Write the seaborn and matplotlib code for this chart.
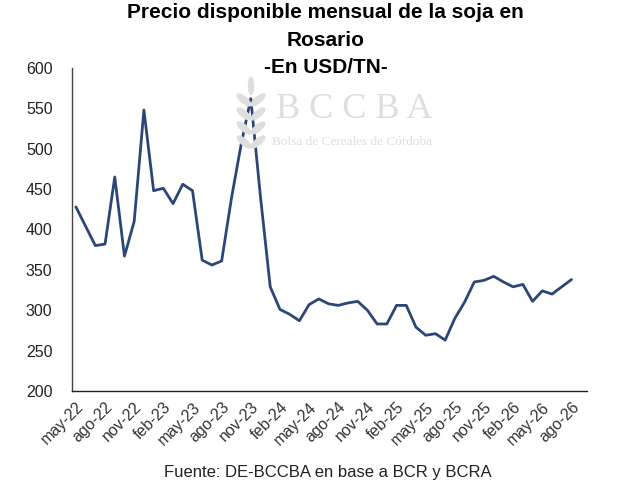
import matplotlib
matplotlib.use("Agg")
import matplotlib.pyplot as plt
from matplotlib.patches import Ellipse
import seaborn as sns
import pandas as pd

# Monthly soybean price in Rosario (USD/TN), may-22 .. ago-26
months = ["may-22", "jun-22", "jul-22", "ago-22", "sep-22", "oct-22", "nov-22", "dic-22",
          "ene-23", "feb-23", "mar-23", "abr-23", "may-23", "jun-23", "jul-23", "ago-23",
          "sep-23", "oct-23", "nov-23", "dic-23", "ene-24", "feb-24", "mar-24", "abr-24",
          "may-24", "jun-24", "jul-24", "ago-24", "sep-24", "oct-24", "nov-24", "dic-24",
          "ene-25", "feb-25", "mar-25", "abr-25", "may-25", "jun-25", "jul-25", "ago-25",
          "sep-25", "oct-25", "nov-25", "dic-25", "ene-26", "feb-26", "mar-26", "abr-26",
          "may-26", "jun-26", "jul-26", "ago-26"]
price = [428, 404, 380, 382, 465, 367, 410, 548, 448, 451, 432, 456, 448,
         362, 356, 361, 438, 505, 562, 440, 329, 301, 295, 287, 307, 314,
         308, 306, 309, 311, 300, 283, 283, 306, 306, 279, 269, 271, 263,
         290, 310, 335, 337, 342, 335, 329, 332, 311, 324, 320, 329, 338]

df = pd.DataFrame({"mes": months, "precio": price})
df["pos"] = range(len(df))

sns.set_theme(style="white")
plt.rcParams["font.family"] = ["Liberation Sans", "DejaVu Sans"]

W, H = 640, 496
fig = plt.figure(figsize=(6.4, 4.96), dpi=100)
ax = fig.add_axes([0.1125, 0.2117, 0.8047, 0.6513])


def px(x, y):
    # pixel position (from top-left) -> inches for dpi_scale_trans
    return x / 100, (H - y) / 100


# watermark: wheat logo + BCCBA text (behind the line)
wm = "#dedede"
for yy in [100, 114, 128, 142]:
    for side in (-1, 1):
        e = Ellipse(px(251 + side * 7, yy), 0.17, 0.06, angle=side * 40,
                    transform=fig.dpi_scale_trans, color=wm, zorder=0)
        fig.patches.append(e)
fig.patches.append(Ellipse(px(251, 86), 0.05, 0.17,
                           transform=fig.dpi_scale_trans, color=wm, zorder=0))
fig.text(276 / W, 1 - 110 / H, "B C C B A", fontsize=26, family="Liberation Serif",
         color=wm, ha="left", va="center", zorder=0)
fig.text(272 / W, 1 - 142 / H, "Bolsa de Cereales de Córdoba", fontsize=9.5,
         family="Liberation Serif", color=wm, ha="left", va="center", zorder=0)
ax.patch.set_alpha(0)

sns.lineplot(data=df, x="pos", y="precio", ax=ax, color="#2c4677", linewidth=2.0)

ax.set_xlim(-0.4, 52.6)
ax.set_ylim(200, 600)
ax.set_yticks(range(200, 601, 50))
ax.tick_params(axis="y", labelsize=11.5, colors="#222222", length=0, pad=14)

tick_pos = df["pos"][::3]
ax.set_xticks(tick_pos)
ax.set_xticklabels(df["mes"][::3], rotation=45, ha="right", rotation_mode="anchor",
                   fontsize=11.5, color="#333333")
ax.tick_params(axis="x", length=0, pad=6)

ax.set_xlabel("")
ax.set_ylabel("")
sns.despine(ax=ax)
ax.spines["left"].set_color("#444444")
ax.spines["left"].set_linewidth(1.0)
ax.spines["bottom"].set_color("#222222")
ax.spines["bottom"].set_linewidth(1.0)

# title
fig.text(0.509, 0.993, "Precio disponible mensual de la soja en\nRosario\n-En USD/TN-",
         ha="center", va="top", fontsize=15, fontweight="bold", linespacing=1.55,
         family="Liberation Sans", color="black")

# source
fig.text(0.512, 0.048, "Fuente: DE-BCCBA en base a BCR y BCRA", ha="center", va="center",
         fontsize=12, color="#222222")

fig.savefig("out.png", dpi=100)
